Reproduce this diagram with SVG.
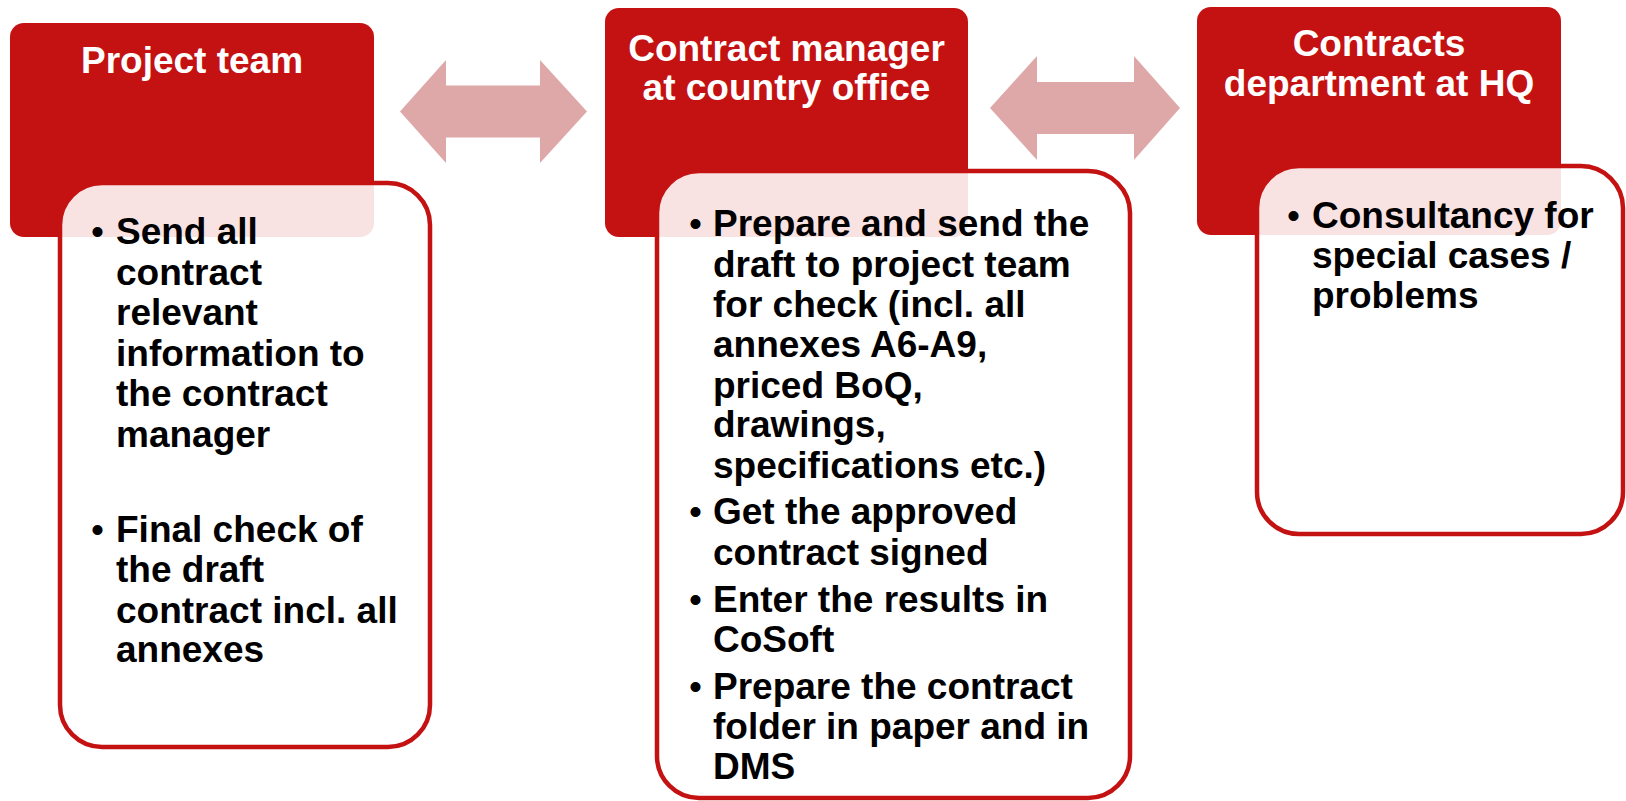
<svg xmlns="http://www.w3.org/2000/svg" width="1626" height="801" viewBox="0 0 1626 801">
<style>
.hdr{fill:#c41212;}
.body{fill:#ffffff;fill-opacity:0.88;stroke:#c41212;stroke-width:4.5;}
.title{font-family:"Liberation Sans",Arial,sans-serif;font-weight:bold;font-size:37px;fill:#ffffff;text-anchor:middle;}
.txt{font-family:"Liberation Sans",Arial,sans-serif;font-weight:bold;font-size:37px;fill:#000000;}
.bul{font-family:"Liberation Sans",Arial,sans-serif;font-size:37px;fill:#000000;}
.arrow{fill:#dfa8a8;}
</style>
<rect width="1626" height="801" fill="#ffffff"/>
<g id="connectors">
<path class="arrow" d="M400,111.5 L446,60 L446,85.5 L540,85.5 L540,60 L587,111.5 L540,163 L540,137.5 L446,137.5 L446,163 Z"/>
<path class="arrow" d="M990,108 L1037,56 L1037,82 L1134,82 L1134,56 L1180,108 L1134,160 L1134,134 L1037,134 L1037,160 Z"/>
</g>
<g id="node-project-team">
<rect class="hdr" x="10" y="23" width="364" height="214" rx="14"/>
<text class="title" x="192" y="73">Project team</text>
<rect class="body" x="60" y="183" width="370" height="564" rx="42"/>
<text class="bul" x="91" y="244">•</text>
<text class="txt" x="116" y="244">Send all</text>
<text class="txt" x="116" y="284.5">contract</text>
<text class="txt" x="116" y="325">relevant</text>
<text class="txt" x="116" y="365.5">information to</text>
<text class="txt" x="116" y="406">the contract</text>
<text class="txt" x="116" y="446.5">manager</text>
<text class="bul" x="91" y="542">•</text>
<text class="txt" x="116" y="542">Final check of</text>
<text class="txt" x="116" y="582">the draft</text>
<text class="txt" x="116" y="622.5">contract incl. all</text>
<text class="txt" x="116" y="662">annexes</text>
</g>
<g id="node-contract-manager">
<rect class="hdr" x="605" y="8" width="363" height="229" rx="14"/>
<text class="title" x="786.5" y="61">Contract manager</text>
<text class="title" x="786.5" y="100">at country office</text>
<rect class="body" x="657" y="171" width="473" height="627" rx="42"/>
<text class="bul" x="689" y="236">•</text>
<text class="txt" x="713" y="236">Prepare and send the</text>
<text class="txt" x="713" y="276.5">draft to project team</text>
<text class="txt" x="713" y="317">for check (incl. all</text>
<text class="txt" x="713" y="357">annexes A6-A9,</text>
<text class="txt" x="713" y="397.5">priced BoQ,</text>
<text class="txt" x="713" y="437">drawings,</text>
<text class="txt" x="713" y="478">specifications etc.)</text>
<text class="bul" x="689" y="524">•</text>
<text class="txt" x="713" y="524">Get the approved</text>
<text class="txt" x="713" y="565">contract signed</text>
<text class="bul" x="689" y="612">•</text>
<text class="txt" x="713" y="612">Enter the results in</text>
<text class="txt" x="713" y="652">CoSoft</text>
<text class="bul" x="689" y="698.5">•</text>
<text class="txt" x="713" y="698.5">Prepare the contract</text>
<text class="txt" x="713" y="739">folder in paper and in</text>
<text class="txt" x="713" y="779">DMS</text>
</g>
<g id="node-contracts-hq">
<rect class="hdr" x="1197" y="7" width="364" height="228" rx="14"/>
<text class="title" x="1379" y="56">Contracts</text>
<text class="title" x="1379" y="96">department at HQ</text>
<rect class="body" x="1257" y="166" width="366" height="368" rx="42"/>
<text class="bul" x="1287" y="228">•</text>
<text class="txt" x="1312" y="228">Consultancy for</text>
<text class="txt" x="1312" y="268">special cases /</text>
<text class="txt" x="1312" y="308">problems</text>
</g>
</svg>
